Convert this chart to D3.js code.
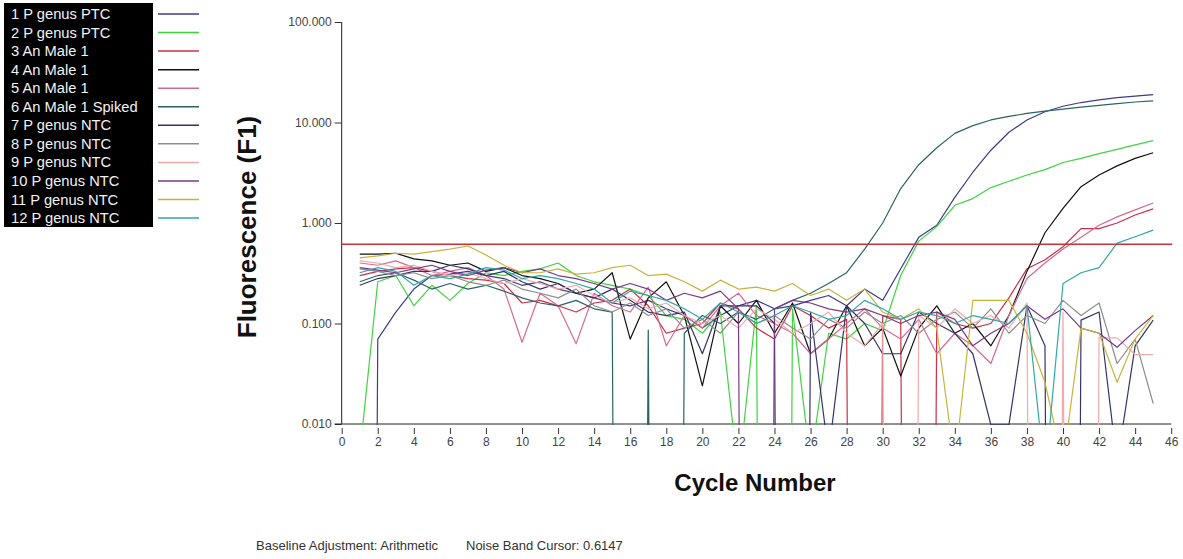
<!DOCTYPE html>
<html>
<head>
<meta charset="utf-8">
<script src="https://cdn.jsdelivr.net/npm/d3@7"></script>
<style>
  body { margin: 0; background: #ffffff; }
  svg { display: block; font-family: Arial, "Liberation Sans", sans-serif; }
</style>
</head>
<body>
<svg id="chart" width="1183" height="559"></svg>
<script>
// Real-time PCR amplification plot: fluorescence per cycle, log scale.
const wellNames = [
  "1 P genus PTC", "2 P genus PTC", "3 An Male 1", "4 An Male 1", "5 An Male 1",
  "6 An Male 1 Spiked", "7 P genus NTC", "8 P genus NTC", "9 P genus NTC",
  "10 P genus NTC", "11 P genus NTC", "12 P genus NTC"
];
const wellColors = [
  "#3c3c8c", "#3fd43f", "#cc3046", "#111111", "#d86a92", "#2b6464",
  "#34346a", "#8e8e8e", "#f2aaaa", "#7a3a88", "#c8b43c", "#30a8a8"
];

const cycles = d3.range(1, 46);

// Baseline-adjusted fluorescence (F1), cycles 1..45. 0 = no signal above baseline.
const well1 = [0, 0.07, 0.13, 0.22, 0.30, 0.31, 0.33, 0.30, 0.28, 0.24,
  0.26, 0.22, 0.20, 0.18, 0.16, 0.15, 0.17, 0.14, 0.12, 0.09,
  0.12, 0.15, 0.17, 0.14, 0.15, 0.17, 0.19, 0.15, 0.22, 0.17,
  0.35, 0.72, 0.95, 1.8, 3.2, 5.3, 8.0, 10.6, 12.8, 14.5,
  15.8, 16.8, 17.7, 18.3, 18.9];
const well2 = [0.005, 0.26, 0.30, 0.15, 0.24, 0.17, 0.25, 0.32, 0.30, 0.33,
  0.35, 0.40, 0.30, 0.26, 0.24, 0.22, 0.19, 0.12, 0.11, 0.08,
  0.13, 0.003, 0.15, 0, 0.14, 0.004, 0.08, 0.07, 0.10, 0.085,
  0.30, 0.66, 0.92, 1.5, 1.75, 2.25, 2.6, 3.0, 3.4, 4.0,
  4.4, 4.9, 5.4, 6.0, 6.6];
const well3 = [0.30, 0.33, 0.35, 0.36, 0.33, 0.30, 0.28, 0.27, 0.25, 0.16,
  0.17, 0.15, 0.13, 0.16, 0.17, 0.22, 0.15, 0.08, 0.09, 0.10,
  0.16, 0.14, 0.09, 0.07, 0.15, 0.12, 0.09, 0.11, 0, 0.12,
  0.11, 0, 0.13, 0.10, 0.09, 0.10, 0.18, 0.35, 0.43, 0.58,
  0.88, 0.88, 1.0, 1.2, 1.38];
const well4 = [0.49, 0.49, 0.50, 0.44, 0.42, 0.38, 0.40, 0.33, 0.36, 0.30,
  0.28, 0.25, 0.20, 0.22, 0.32, 0.07, 0.18, 0.26, 0.12, 0.024,
  0.15, 0.10, 0.17, 0.08, 0.16, 0.05, 0.07, 0.15, 0.06, 0.09,
  0.03, 0.09, 0.15, 0.08, 0.10, 0.06, 0.12, 0.33, 0.8, 1.4,
  2.3, 3.0, 3.7, 4.4, 5.0];
const well5 = [0.40, 0.38, 0.42, 0.36, 0.30, 0.33, 0.36, 0.30, 0.22, 0.065,
  0.20, 0.15, 0.063, 0.20, 0.15, 0.13, 0.23, 0.06, 0.12, 0.09,
  0.15, 0.20, 0.12, 0.10, 0.08, 0.05, 0.07, 0.10, 0.14, 0.09,
  0.07, 0.11, 0.05, 0.08, 0.06, 0.04, 0.12, 0.28, 0.40, 0.55,
  0.72, 0.95, 1.15, 1.35, 1.58];
const well6 = [0.26, 0.30, 0.32, 0.27, 0.22, 0.25, 0.22, 0.24, 0.21, 0.18,
  0.16, 0.15, 0.17, 0.14, 0.13, 0, 0.086, 0, 0.08, 0.12,
  0.10, 0.13, 0.11, 0.14, 0.17, 0.20, 0.25, 0.32, 0.55, 1.0,
  2.2, 3.8, 5.6, 7.8, 9.3, 10.6, 11.5, 12.3, 13.0, 13.6,
  14.2, 14.8, 15.4, 16.0, 16.4];
const well7 = [0.24, 0.28, 0.30, 0.33, 0.33, 0.38, 0.35, 0.30, 0.33, 0.26,
  0.22, 0.25, 0.20, 0.18, 0.22, 0.17, 0.13, 0.12, 0.13, 0.05,
  0.15, 0.15, 0.15, 0.10, 0, 0.13, 0.005, 0.15, 0.10, 0.05,
  0.05, 0.13, 0.10, 0.08, 0.05, 0.0098, 0.0098, 0.15, 0.06, 0,
  0.108, 0.13, 0.004, 0.06, 0.108];
const well8 = [0.35, 0.33, 0.30, 0.32, 0.28, 0.30, 0.26, 0.24, 0.27, 0.22,
  0.20, 0.18, 0.22, 0.15, 0.13, 0.16, 0.12, 0.14, 0.09, 0.11,
  0.08, 0.13, 0.10, 0.12, 0.09, 0.07, 0.11, 0.09, 0.13, 0.10,
  0.12, 0.08, 0.11, 0.13, 0.09, 0.14, 0.08, 0.12, 0.10, 0.17,
  0.12, 0.16, 0.04, 0.07, 0.016];
const well9 = [0.42, 0.40, 0.36, 0.38, 0.33, 0.30, 0.32, 0.28, 0.25, 0.28,
  0.25, 0.22, 0.24, 0.19, 0.16, 0.18, 0.14, 0.16, 0.12, 0.10,
  0.12, 0.09, 0.14, 0.11, 0.08, 0.10, 0.13, 0.08, 0.06, 0.10,
  0, 0.12, 0.09, 0.14, 0.10, 0.12, 0.09, 0.16, 0, 0.13,
  0, 0.072, 0.072, 0.049, 0.049];
const well10 = [0.36, 0.34, 0.32, 0.35, 0.38, 0.33, 0.30, 0.34, 0.36, 0.32,
  0.35, 0.30, 0.28, 0.25, 0.22, 0.25, 0.22, 0.17, 0.20, 0.18,
  0.21, 0.14, 0, 0.14, 0.17, 0.16, 0.14, 0.13, 0.14, 0.12,
  0.10, 0.12, 0.13, 0.11, 0.06, 0.08, 0.10, 0.15, 0.11, 0.14,
  0.09, 0.08, 0.058, 0.085, 0.12];
const well11 = [0.45, 0.47, 0.50, 0.49, 0.52, 0.55, 0.59, 0.48, 0.38, 0.32,
  0.32, 0.35, 0.31, 0.32, 0.36, 0.38, 0.30, 0.31, 0.26, 0.21,
  0.27, 0.22, 0.23, 0.21, 0.25, 0.19, 0.22, 0.17, 0.22, 0.13,
  0.11, 0.14, 0.09, 0.004, 0.17, 0.17, 0.17, 0.08, 0.026, 0.004,
  0.09, 0.08, 0.026, 0.07, 0.12];
const well12 = [0.32, 0.36, 0.33, 0.24, 0.30, 0.28, 0.31, 0.36, 0.34, 0.28,
  0.30, 0.28, 0.25, 0.22, 0.16, 0.21, 0.19, 0.17, 0.14, 0.11,
  0.16, 0.13, 0.10, 0.12, 0.15, 0.13, 0.11, 0.12, 0.17, 0.14,
  0.11, 0.13, 0.12, 0.10, 0.12, 0.11, 0.10, 0.15, 0.003, 0.25,
  0.32, 0.36, 0.63, 0.73, 0.85];

const wells = [well1, well2, well3, well4, well5, well6, well7, well8, well9, well10, well11, well12];

const xTickValues = d3.range(0, 47, 2);
const yTickValues = [0.01, 0.1, 1, 10, 100];
const noiseBandCursor = 0.6147;
const footerNotes = ["Baseline Adjustment: Arithmetic", "Noise Band Cursor: 0.6147"];

// ---- layout ----
const plot = { left: 341.7, right: 1171.2, top: 22, bottom: 424 };
const svg = d3.select("#chart");

const x = d3.scaleLinear().domain([0, 46]).range([plot.left, plot.right]);
const y = d3.scaleLog().domain([0.01, 100]).range([plot.bottom, plot.top]);
const floorValue = 1e-30; // readings at or below zero fall off the bottom of the log axis

svg.append("rect").attr("width", 1183).attr("height", 559).attr("fill", "#ffffff");

svg.append("defs").append("clipPath").attr("id", "plot-clip")
  .append("rect")
  .attr("x", plot.left).attr("y", plot.top - 2)
  .attr("width", plot.right - plot.left + 2)
  .attr("height", plot.bottom - plot.top + 3);

// ---- axes ----
const yAxis = d3.axisLeft(y).tickValues(yTickValues)
  .tickFormat(d3.format(".3f")).tickSize(7).tickPadding(3);
const gy = svg.append("g").attr("transform", `translate(${plot.left},0)`).call(yAxis);
gy.select(".domain").attr("stroke", "#222").attr("d", `M0,${plot.top}V${plot.bottom}`);
gy.selectAll(".tick line").attr("stroke", "#333");
gy.selectAll(".tick text").attr("fill", "#444").style("font-size", "12px")
  .style("font-family", "Arial, 'Liberation Sans', sans-serif");

const xAxis = d3.axisBottom(x).tickValues(xTickValues).tickSize(0).tickPadding(13);
const gx = svg.append("g").attr("transform", `translate(0,${plot.bottom})`).call(xAxis);
gx.select(".domain").attr("stroke", "#222").attr("d", `M${plot.left - 7},0H${plot.right}`);
gx.selectAll(".tick").append("line")
  .attr("y1", 4).attr("y2", 10).attr("stroke", "#333");
gx.selectAll(".tick text").attr("fill", "#444").style("font-size", "12px")
  .style("font-family", "Arial, 'Liberation Sans', sans-serif");

// ---- amplification curves ----
const line = d3.line()
  .x((d, i) => x(cycles[i]))
  .y(d => y(Math.max(d, floorValue)));

const curves = svg.append("g").attr("clip-path", "url(#plot-clip)");
curves.selectAll("path.well")
  .data(wells)
  .join("path")
  .attr("class", "well")
  .attr("fill", "none")
  .attr("stroke", (d, i) => wellColors[i])
  .attr("stroke-width", 1.2)
  .attr("stroke-linejoin", "round")
  .attr("d", line);

// ---- noise band threshold ----
svg.append("line")
  .attr("x1", plot.left).attr("x2", plot.right + 1)
  .attr("y1", y(noiseBandCursor)).attr("y2", y(noiseBandCursor))
  .attr("stroke", "#c4323c").attr("stroke-width", 1.5);

// ---- axis titles ----
svg.append("text")
  .attr("transform", `translate(256,227) rotate(-90)`)
  .attr("text-anchor", "middle")
  .style("font-size", "26px").style("font-weight", "bold").attr("fill", "#111")
  .text("Fluorescence (F1)");

svg.append("text")
  .attr("x", 755).attr("y", 491)
  .attr("text-anchor", "middle")
  .style("font-size", "24px").style("font-weight", "bold").attr("fill", "#111")
  .text("Cycle Number");

// ---- footer ----
svg.append("text").attr("x", 256).attr("y", 550)
  .style("font-size", "13px").attr("fill", "#333").text(footerNotes[0]);
svg.append("text").attr("x", 466).attr("y", 550)
  .style("font-size", "13px").attr("fill", "#333").text(footerNotes[1]);

// ---- legend ----
const legend = svg.append("g");
const rowStep = 18.55;
legend.append("rect")
  .attr("x", 4).attr("y", 3).attr("width", 149).attr("height", 224)
  .attr("fill", "#000000");
const rows = legend.selectAll("g.row").data(wellNames).join("g")
  .attr("class", "row")
  .attr("transform", (d, i) => `translate(0,${14 + i * rowStep})`);
rows.append("text")
  .attr("x", 11).attr("y", 5)
  .style("font-size", "14.7px").attr("fill", "#f2f2f2")
  .text(d => d);
rows.append("line")
  .attr("x1", 158).attr("x2", 199).attr("y1", 0).attr("y2", 0)
  .attr("stroke", (d, i) => wellColors[i]).attr("stroke-width", 1.5);
</script>
</body>
</html>
